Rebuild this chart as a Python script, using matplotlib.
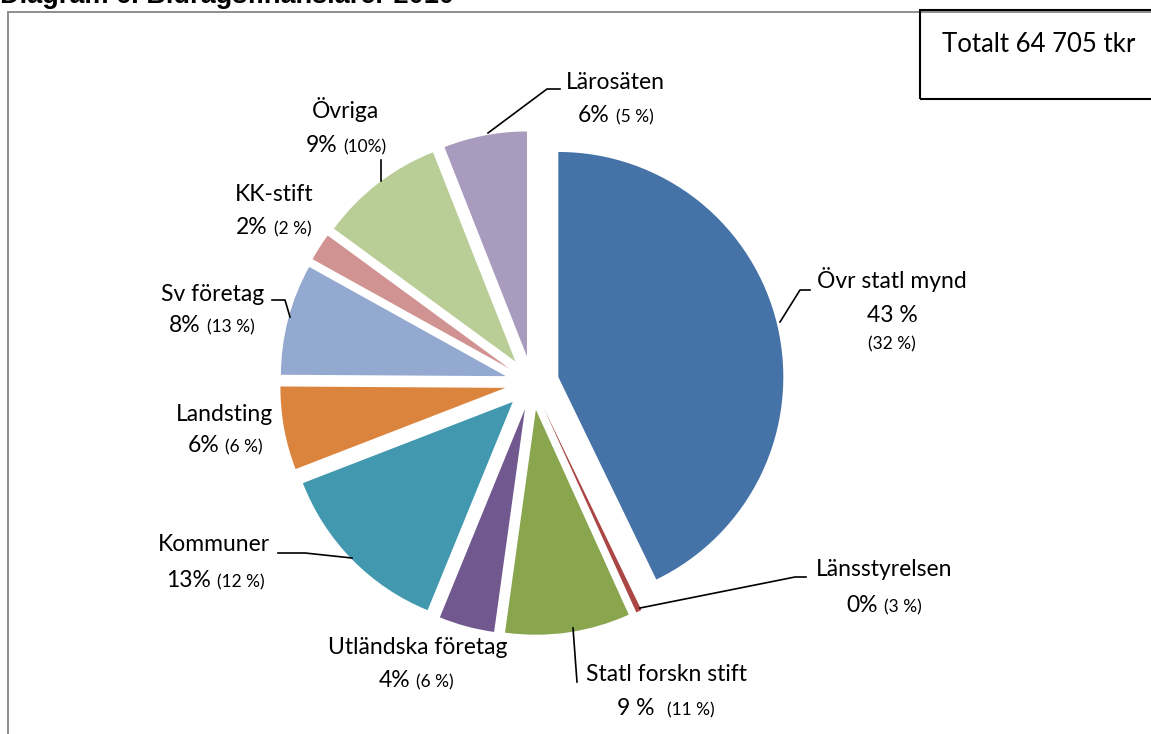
import matplotlib
matplotlib.use("Agg")
import matplotlib.pyplot as plt
from matplotlib.patches import Rectangle

# data - share 2010 and (previous year) per funder
names = ["Övr statl mynd", "Länsstyrelsen", "Statl forskn stift", "Utländska företag",
         "Kommuner", "Landsting", "Sv företag", "KK-stift", "Övriga", "Lärosäten"]
shares = [43, 0.4, 9, 4, 13, 6, 8, 2, 9, 6]
pct_now = ["43 %", "0%", "9 %", "4%", "13%", "6%", "8%", "2%", "9%", "6%"]
pct_prev = ["(32 %)", "(3 %)", "(11 %)", "(6 %)", "(12 %)", "(6 %)", "(13 %)", "(2 %)", "(10%)", "(5 %)"]
colors = ["#4572A7", "#AA4643", "#89A54E", "#71588F", "#4198AF",
          "#DB843D", "#93A9CF", "#D19392", "#B9CD96", "#A99BBD"]

W, H = 1151, 734
fig = plt.figure(figsize=(W / 100, H / 100), dpi=100)
ax = fig.add_axes([0, 0, 1, 1])

FONT = "Lato"
BIG, SMALL = 16.5, 12.5

# pie - every slice pulled out from the centre
ax.pie(shares, colors=colors, startangle=90, counterclock=False,
       center=(532, H - 383), radius=225, explode=[27] * len(shares),
       wedgeprops=dict(linewidth=0), frame=True)
ax.set_xlim(0, W)
ax.set_ylim(0, H)
ax.set_aspect("equal")
ax.axis("off")

# chart frame and title (cut at the top)
ax.add_patch(Rectangle((8, -10), W, H - 12 + 10, fill=False, ec="#868686", lw=1.3))
fig.text(0, 1 - 3 / H, "Diagram 6. Bidragsfinansiärer 2010", fontsize=19.5, fontweight="bold",
         family="Liberation Sans", va="baseline", ha="left")

renderer = fig.canvas.get_renderer()


def two_part(cx, y, big, small, gap=6):
    t1 = ax.text(0, y, big, ha="left", va="baseline", fontsize=BIG, family=FONT)
    t2 = ax.text(0, y, small, ha="left", va="baseline", fontsize=SMALL, family=FONT)
    w1 = t1.get_window_extent(renderer).width
    w2 = t2.get_window_extent(renderer).width
    left = cx - (w1 + gap + w2) / 2
    t1.set_x(left)
    t2.set_x(left + w1 + gap)


# label layout: name centre x, name y, second line centre x, second line y (pixels from top)
layout = [
    (892, 282, 892, 315),
    (884, 570, 884, 605),
    (667, 675, 666, 708),
    (418, 648, 416, 680),
    (214, 545, 215, 580),
    (225, 415, 225, 445),
    (213, 295, 212, 325),
    (274, 195, 274, 227),
    (346, 112, 346, 145),
    (615, 83, 616, 115),
]
for i, (name, now, prev, (cx, ny, lx, ly)) in enumerate(zip(names, pct_now, pct_prev, layout)):
    ax.text(cx, H - ny - 6, name, ha="center", va="baseline", fontsize=BIG, family=FONT)
    if i == 0:
        ax.text(lx, H - ly - 7, now, ha="center", va="baseline", fontsize=BIG, family=FONT)
        ax.text(lx, H - 343 - 6, prev, ha="center", va="baseline", fontsize=SMALL, family=FONT)
    else:
        two_part(lx, H - ly - 7, now, prev, gap=12 if i == 2 else 6)

# leader lines
leaders = [
    [(780, 322), (800, 290), (810, 290)],
    [(640, 608), (795, 577), (806, 577)],
    [(573, 628), (577, 682)],
    [(278, 553), (305, 553), (352, 558)],
    [(272, 300), (285, 300), (290, 317)],
    [(381, 160), (381, 181)],
    [(488, 133), (547, 89), (560, 89)],
]
for pts in leaders:
    ax.plot([p[0] for p in pts], [H - p[1] for p in pts], color="black", lw=1.2)

# total box
ax.add_patch(Rectangle((920, H - 99), 240, 99 - 10, fill=False, ec="black", lw=1.5, clip_on=False))
ax.text(1039, H - 45, "Totalt 64 705 tkr", ha="center", va="center", fontsize=18.5, family=FONT)

fig.savefig("out.png", dpi=100)
